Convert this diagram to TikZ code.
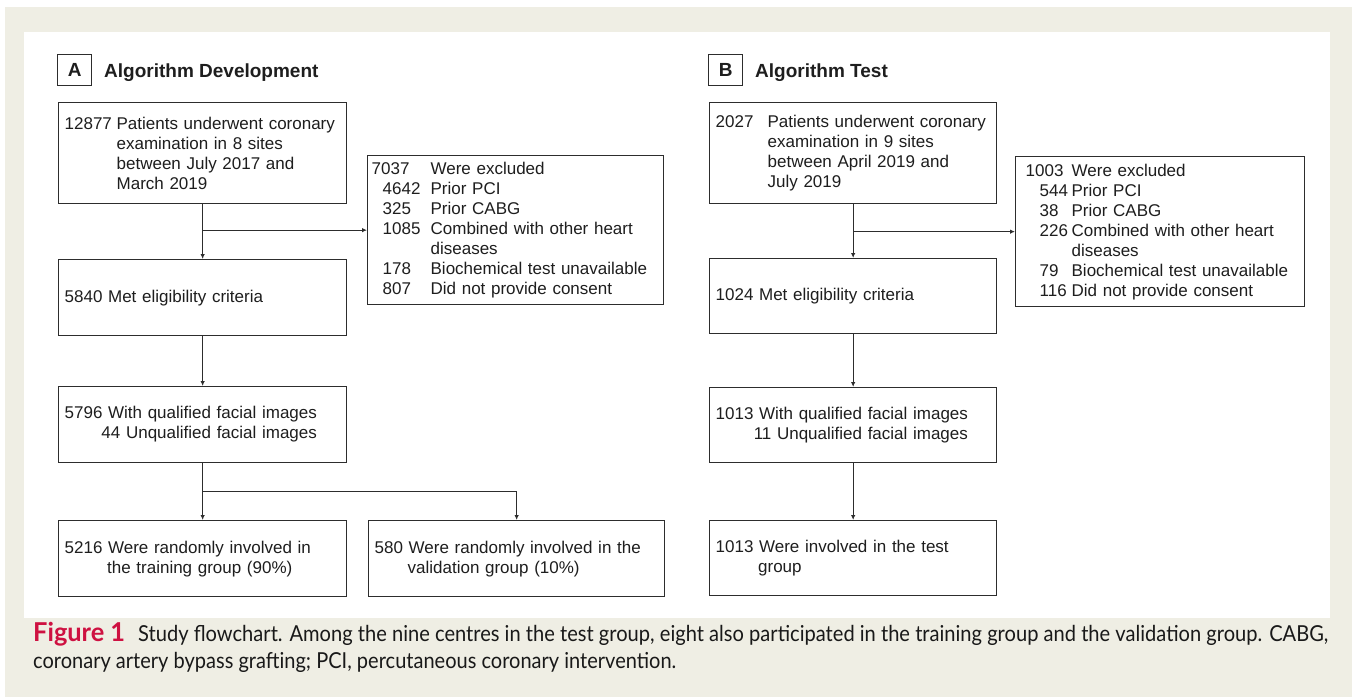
\documentclass[tikz,border=0pt]{standalone}
\usepackage{fontspec}
\setmainfont{Liberation Sans}
\newfontfamily\capfont{Lato}
\usetikzlibrary{arrows.meta}
\definecolor{bgbeige}{RGB}{239,238,228}
\definecolor{figred}{RGB}{206,17,65}
\definecolor{ink}{RGB}{30,30,30}
\definecolor{capink}{RGB}{25,25,25}
\definecolor{linec}{RGB}{45,45,45}
\newcommand\bodyfont{\fontsize{17}{20}\selectfont}
\newcommand\titlefont{\fontsize{19}{22}\selectfont\bfseries}
\newcommand\capsize{\capfont\fontsize{22}{26}\selectfont}
\newcommand\figsize{\capfont\fontsize{26}{30}\selectfont\bfseries}
\begin{document}
\begin{tikzpicture}[x=1pt,y=-1pt,
  fbox/.style={draw=linec, line width=1.3pt, inner xsep=6pt, inner ysep=0pt, font=\bodyfont, text=ink, align=left, anchor=north west},
  xbox/.style={fbox, inner xsep=4pt},
  arr/.style={draw=linec, line width=1.2pt, -{Latex[length=5pt,width=4.5pt]}},
  lbl/.style={draw=linec, line width=1.3pt, minimum width=34pt, minimum height=31pt, inner sep=0pt, font=\titlefont, anchor=north west, text=ink},
  ttl/.style={font=\titlefont, anchor=base west, inner sep=0pt, text=ink},
  captext/.style={anchor=base west, inner sep=0pt, text=capink, font=\capsize},
  figlabel/.style={anchor=base west, inner sep=0pt, text=figred, font=\figsize}]
\fill[white] (0,0) rectangle (1355,697);
\fill[bgbeige] (5,7) rectangle (1352,697);
\fill[white] (24,32) rectangle (1330,618);
\useasboundingbox (0,0) rectangle (1355,697);

% Panel A
\node[lbl] (la) at (57,54) {A};
\node[ttl] (ta) at (104,77) {Algorithm Development};
\node[fbox, text width=276pt, minimum height=101pt] (a1) at (58,102)
  {\makebox[52pt][l]{12877}Patients underwent coronary\\
   \hspace*{52pt}examination in 8 sites\\
   \hspace*{52pt}between July 2017 and\\
   \hspace*{52pt}March 2019};
\node[xbox, text width=288pt, minimum height=149pt] (xa) at (367,155)
  {\makebox[59pt][l]{7037}Were excluded\\
   \hspace*{11pt}\makebox[48pt][l]{4642}Prior PCI\\
   \hspace*{11pt}\makebox[48pt][l]{325}Prior CABG\\
   \hspace*{11pt}\makebox[48pt][l]{1085}Combined with other heart\\
   \hspace*{59pt}diseases\\
   \hspace*{11pt}\makebox[48pt][l]{178}Biochemical test unavailable\\
   \hspace*{11pt}\makebox[48pt][l]{807}Did not provide consent};
\node[fbox, text width=276pt, minimum height=76pt] (a2) at (58,259)
  {5840 Met eligibility criteria};
\node[fbox, text width=276pt, minimum height=76pt] (a3) at (58,386)
  {\begin{tabular}{@{}r@{}}5796 With qualified facial images\\44 Unqualified facial images\end{tabular}};
\node[fbox, text width=276pt, minimum height=76pt] (a4) at (58,520)
  {5216 Were randomly involved in\\
   \hspace*{42.5pt}the training group (90\%)};
\node[fbox, text width=284pt, minimum height=76pt] (a5) at (368,520)
  {580 Were randomly involved in the\\
   \hspace*{33pt}validation group (10\%)};

\draw[arr] (a1.south) -- (a2.north);
\draw[arr] (a1.south |- xa.west) -- (xa.west);
\draw[arr] (a2.south) -- (a3.north);
\draw[arr] (a3.south) -- (a4.north);
\path (a3.south) ++(0,28) coordinate (bra);
\draw[arr] (bra) -| (a5.north);

% Panel B
\node[lbl] (lb) at (708,54) {B};
\node[ttl] (tb) at (755,77) {Algorithm Test};
\node[fbox, text width=275pt, minimum height=101pt] (b1) at (709,102)
  {\makebox[52pt][l]{2027}Patients underwent coronary\\
   \hspace*{52pt}examination in 9 sites\\
   \hspace*{52pt}between April 2019 and\\
   \hspace*{52pt}July 2019};
\node[xbox, text width=281pt, minimum height=150pt] (xb) at (1015,156)
  {\hspace*{6pt}\makebox[46pt][l]{1003}Were excluded\\
   \hspace*{20pt}\makebox[32pt][l]{544}Prior PCI\\
   \hspace*{20pt}\makebox[32pt][l]{38}Prior CABG\\
   \hspace*{20pt}\makebox[32pt][l]{226}Combined with other heart\\
   \hspace*{52pt}diseases\\
   \hspace*{20pt}\makebox[32pt][l]{79}Biochemical test unavailable\\
   \hspace*{20pt}\makebox[32pt][l]{116}Did not provide consent};
\node[fbox, text width=275pt, minimum height=75pt] (b2) at (709,258)
  {1024 Met eligibility criteria};
\node[fbox, text width=275pt, minimum height=75pt] (b3) at (709,387)
  {\begin{tabular}{@{}r@{}}1013 With qualified facial images\\11 Unqualified facial images\end{tabular}};
\node[fbox, text width=275pt, minimum height=75pt] (b4) at (709,520)
  {1013 Were involved in the test\\
   \hspace*{42.5pt}group};

\draw[arr] (b1.south) -- (b2.north);
\draw[arr] (b1.south |- xb.west) -- (xb.west);
\draw[arr] (b2.south) -- (b3.north);
\draw[arr] (b3.south) -- (b4.north);

% Caption
\node[figlabel] (figl) at (33,641) {\resizebox{92pt}{\height}{Figure 1}};
\node[captext] (cap1) at (138,641) {\resizebox{1190pt}{\height}{Study flowchart. Among the nine centres in the test group, eight also participated in the training group and the validation group. CABG,}};
\node[captext] (cap2) at (33,668) {\resizebox{643pt}{\height}{coronary artery bypass grafting; PCI, percutaneous coronary intervention.}};
\end{tikzpicture}
\end{document}
